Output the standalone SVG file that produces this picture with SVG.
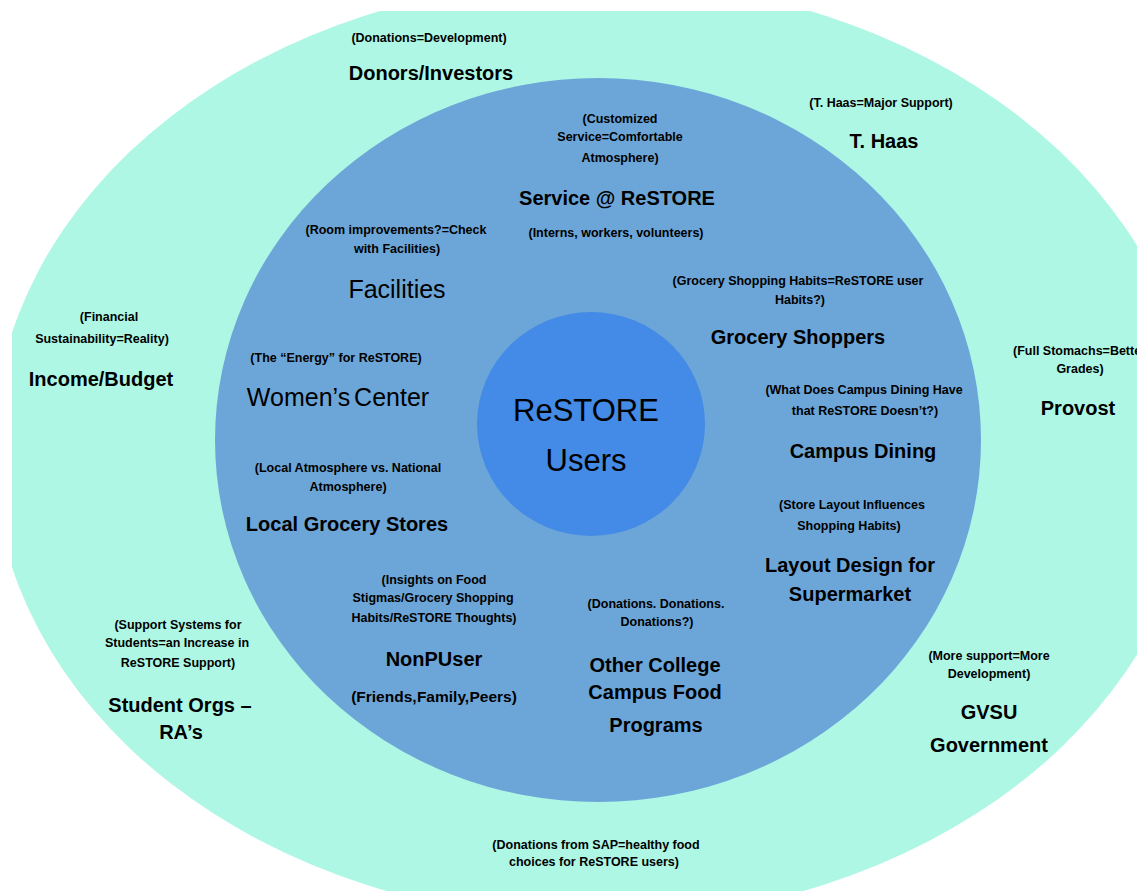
<svg xmlns="http://www.w3.org/2000/svg" width="1141" height="891" viewBox="0 0 1141 891">
  <defs>
    <clipPath id="frame">
      <rect x="12" y="11" width="1125" height="880"/>
    </clipPath>
  </defs>
  <style>
    text { font-family: "Liberation Sans", Arial, sans-serif; fill: #000; text-anchor: middle; }
    .note { font-size: 12.5px; font-weight: bold; }
    .title { font-size: 20px; font-weight: bold; }
    .plain { font-size: 25px; font-weight: normal; }
    .core { font-size: 31px; font-weight: normal; }
    .ring-outer { fill: #aef7e4; }
    .ring-mid { fill: #6ca6d8; }
    .ring-core { fill: #438be6; }
  </style>

  <rect width="1141" height="891" fill="#ffffff"/>

  <g clip-path="url(#frame)">
    <!-- stakeholder rings -->
    <g id="rings">
      <ellipse class="ring-outer" cx="595" cy="450" rx="602" ry="470"/>
      <ellipse class="ring-mid" cx="598" cy="440" rx="383" ry="362"/>
      <ellipse class="ring-core" cx="591" cy="424" rx="114" ry="112"/>
    </g>

    <!-- centre -->
    <g id="restore-users">
      <text class="core" x="586" y="421">ReSTORE</text>
      <text class="core" x="586" y="471">Users</text>
    </g>

    <!-- outer ring -->
    <g id="donors-investors">
      <text class="note" x="429" y="42">(Donations=Development)</text>
      <text class="title" x="431" y="80">Donors/Investors</text>
    </g>
    <g id="t-haas">
      <text class="note" x="881" y="107">(T. Haas=Major Support)</text>
      <text class="title" x="884" y="148">T. Haas</text>
    </g>
    <g id="income-budget">
      <text class="note" x="109" y="321">(Financial</text>
      <text class="note" x="102" y="343">Sustainability=Reality)</text>
      <text class="title" x="101" y="386">Income/Budget</text>
    </g>
    <g id="provost">
      <text class="note" x="1013" y="355" style="text-anchor:start">(Full Stomachs=Bette</text>
      <text class="note" x="1080" y="373">Grades)</text>
      <text class="title" x="1078" y="415">Provost</text>
    </g>
    <g id="student-orgs">
      <text class="note" x="178" y="629">(Support Systems for</text>
      <text class="note" x="177" y="647">Students=an Increase in</text>
      <text class="note" x="178" y="667">ReSTORE Support)</text>
      <text class="title" x="180" y="712">Student Orgs –</text>
      <text class="title" x="181" y="739">RA’s</text>
    </g>
    <g id="gvsu-government">
      <text class="note" x="989" y="660">(More support=More</text>
      <text class="note" x="989" y="678">Development)</text>
      <text class="title" x="989" y="719">GVSU</text>
      <text class="title" x="989" y="752">Government</text>
    </g>
    <g id="sap-donations">
      <text class="note" x="596" y="849">(Donations from SAP=healthy food</text>
      <text class="note" x="594" y="866">choices for ReSTORE users)</text>
    </g>

    <!-- middle ring -->
    <g id="service">
      <text class="note" x="620" y="123">(Customized</text>
      <text class="note" x="620" y="141">Service=Comfortable</text>
      <text class="note" x="620" y="162">Atmosphere)</text>
      <text class="title" x="617" y="205">Service @ ReSTORE</text>
      <text class="note" x="616" y="237">(Interns, workers, volunteers)</text>
    </g>
    <g id="facilities">
      <text class="note" x="396" y="234">(Room improvements?=Check</text>
      <text class="note" x="397" y="253">with Facilities)</text>
      <text class="plain" x="397" y="298">Facilities</text>
    </g>
    <g id="grocery-shoppers">
      <text class="note" x="798" y="285">(Grocery Shopping Habits=ReSTORE user</text>
      <text class="note" x="800" y="304">Habits?)</text>
      <text class="title" x="798" y="344">Grocery Shoppers</text>
    </g>
    <g id="womens-center">
      <text class="note" x="336" y="362">(The “Energy” for ReSTORE)</text>
      <text class="plain" x="338" y="406" style="word-spacing:-3px">Women’s Center</text>
    </g>
    <g id="campus-dining">
      <text class="note" x="864" y="394">(What Does Campus Dining Have</text>
      <text class="note" x="865" y="415">that ReSTORE Doesn’t?)</text>
      <text class="title" x="863" y="458">Campus Dining</text>
    </g>
    <g id="local-grocery">
      <text class="note" x="348" y="472">(Local Atmosphere vs. National</text>
      <text class="note" x="348" y="491">Atmosphere)</text>
      <text class="title" x="347" y="531">Local Grocery Stores</text>
    </g>
    <g id="layout-design">
      <text class="note" x="852" y="509">(Store Layout Influences</text>
      <text class="note" x="849" y="530">Shopping Habits)</text>
      <text class="title" x="850" y="572">Layout Design for</text>
      <text class="title" x="850" y="601">Supermarket</text>
    </g>
    <g id="nonpuser">
      <text class="note" x="434" y="584">(Insights on Food</text>
      <text class="note" x="433" y="602">Stigmas/Grocery Shopping</text>
      <text class="note" x="434" y="622">Habits/ReSTORE Thoughts)</text>
      <text class="title" x="434" y="666">NonPUser</text>
      <text class="note" x="434" y="702" style="font-size:15.5px;word-spacing:-4px">(Friends, Family, Peers)</text>
    </g>
    <g id="other-college">
      <text class="note" x="656" y="608">(Donations. Donations.</text>
      <text class="note" x="657" y="626">Donations?)</text>
      <text class="title" x="655" y="672">Other College</text>
      <text class="title" x="655" y="699">Campus Food</text>
      <text class="title" x="656" y="732">Programs</text>
    </g>
  </g>
</svg>
